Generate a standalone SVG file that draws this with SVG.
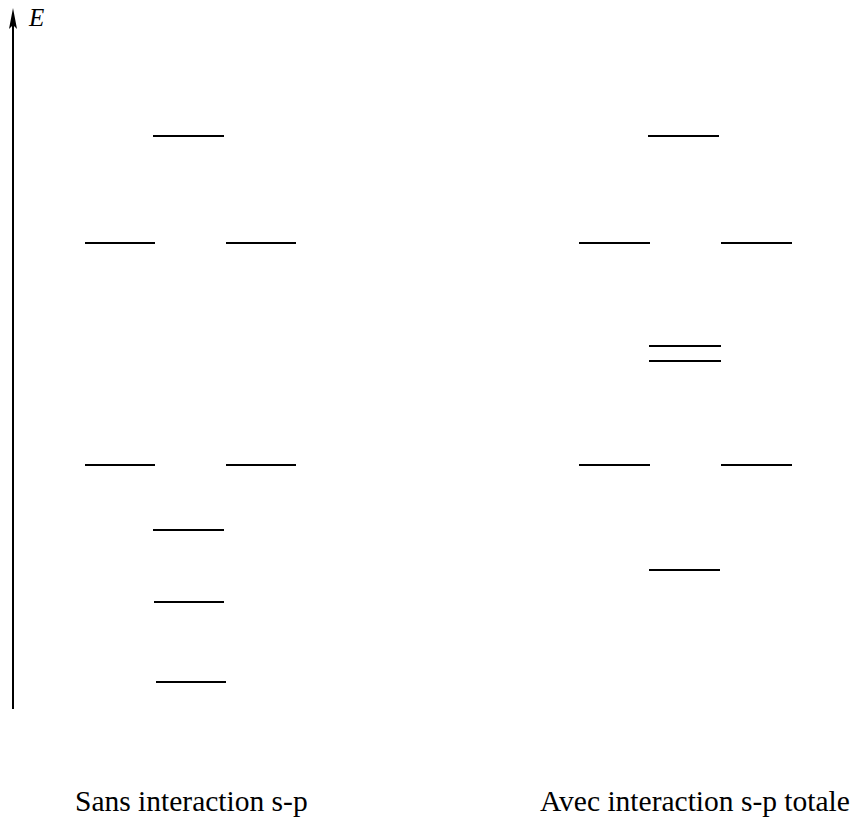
<svg xmlns="http://www.w3.org/2000/svg" width="859" height="823" viewBox="0 0 859 823">
<style>
.lvl{stroke:#000;stroke-width:2;fill:none}
</style>
<rect width="859" height="823" fill="#fff"/>
<g id="connectors">
<line x1="13" y1="709" x2="13" y2="24" stroke="#000" stroke-width="2"/>
<path d="M13,8 L17,29 L13,25 L9,29 Z" fill="#000"/>
</g>
<g id="axis-label"><text x="29" y="26" font-family="Liberation Serif,serif" font-style="italic" font-size="25">E</text></g>
<g id="left">
<line class="lvl" x1="153" y1="136" x2="224" y2="136"/>
<line class="lvl" x1="85" y1="243" x2="155" y2="243"/>
<line class="lvl" x1="226" y1="243" x2="296" y2="243"/>
<line class="lvl" x1="85" y1="465" x2="155" y2="465"/>
<line class="lvl" x1="226" y1="465" x2="296" y2="465"/>
<line class="lvl" x1="153" y1="530" x2="224" y2="530"/>
<line class="lvl" x1="154" y1="602" x2="224" y2="602"/>
<line class="lvl" x1="156" y1="682" x2="226" y2="682"/>
</g>
<g id="right">
<line class="lvl" x1="648" y1="136" x2="719" y2="136"/>
<line class="lvl" x1="579" y1="243" x2="650" y2="243"/>
<line class="lvl" x1="721" y1="243" x2="792" y2="243"/>
<line class="lvl" x1="649" y1="346" x2="721" y2="346"/>
<line class="lvl" x1="649" y1="361" x2="721" y2="361"/>
<line class="lvl" x1="579" y1="465" x2="650" y2="465"/>
<line class="lvl" x1="721" y1="465" x2="792" y2="465"/>
<line class="lvl" x1="649" y1="570" x2="720" y2="570"/>
</g>
<g id="labels" font-family="Liberation Serif,serif" font-size="29.5" fill="#000">
<text x="75" y="811">Sans interaction s-p</text>
<text x="540" y="811">Avec interaction s-p totale</text>
</g>
</svg>
